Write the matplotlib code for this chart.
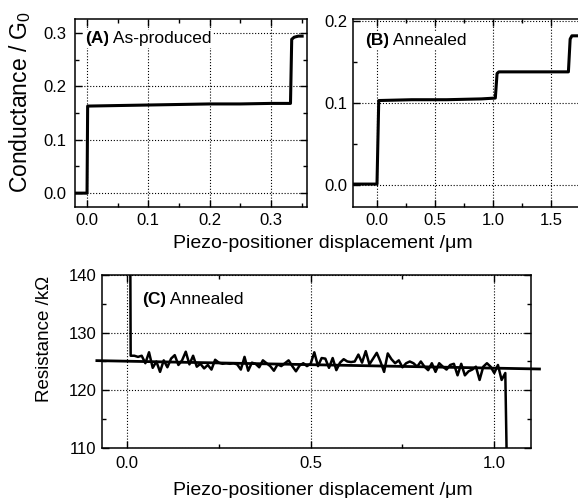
import numpy as np
import matplotlib
matplotlib.use("Agg")
import matplotlib.pyplot as plt
from matplotlib.ticker import MultipleLocator, FormatStrFormatter

#-------font setting-------
plt.rcParams['font.family'] = ['Liberation Sans', 'DejaVu Sans']
plt.rcParams['mathtext.fontset'] = 'custom'
plt.rcParams['mathtext.rm'] = 'Liberation Sans'
plt.rcParams['mathtext.it'] = 'Liberation Sans:italic'
plt.rcParams['mathtext.bf'] = 'Liberation Sans:bold'

#-------data-------
# (A) as-produced conductance trace
a_x = [-0.02, 0.0, 0.001, 0.05, 0.1, 0.15, 0.2, 0.25, 0.3, 0.332, 0.334, 0.338, 0.345, 0.351]
a_y = [0.0, 0.0, 0.163, 0.164, 0.165, 0.166, 0.167, 0.167, 0.168, 0.168, 0.288, 0.292, 0.294, 0.294]

# (B) annealed conductance trace
b_x = [-0.2, 0.0, 0.015, 0.3, 0.6, 0.9, 1.02, 1.035, 1.05, 1.3, 1.5, 1.65, 1.665, 1.68, 1.8]
b_y = [0.001, 0.001, 0.103, 0.104, 0.104, 0.105, 0.106, 0.136, 0.138, 0.138, 0.138, 0.138, 0.178, 0.182, 0.182]

# (C) annealed resistance trace, sampled every 0.01 um from 0.01 um
c_res = [126.0, 126.0, 125.8, 126.0, 124.7, 126.6, 123.9, 125.0, 123.2, 125.2,
         124.0, 125.5, 126.1, 124.4, 125.2, 126.7, 124.5, 126.0, 124.1, 124.6,
         123.8, 124.4, 123.6, 125.3, 124.8, 124.6, 124.7, 124.6, 124.7, 124.5,
         123.6, 125.8, 123.4, 124.8, 124.6, 124.0, 125.2, 124.7, 124.2, 123.4,
         124.5, 124.2, 124.7, 125.2, 124.2, 123.3, 124.3, 124.7, 124.2, 124.6,
         126.6, 124.2, 125.6, 125.5, 123.9, 125.6, 123.5, 124.8, 125.4, 125.0,
         124.9, 125.0, 126.2, 124.8, 126.8, 124.5, 125.5, 126.5, 125.0, 123.2,
         126.4, 125.4, 124.7, 125.2, 124.0, 124.7, 125.0, 124.7, 124.1, 125.0,
         124.1, 123.5, 124.7, 123.2, 124.7, 124.1, 123.6, 124.4, 124.6, 122.6,
         124.6, 122.6, 123.3, 123.6, 124.1, 121.8, 124.1, 124.7, 124.1, 123.0,
         124.4, 121.8, 123.0]
c_x = np.round(0.01 * np.arange(1, len(c_res) + 1), 2)
c_start = (0.008, 160.0)   # contact: resistance comes down from off-scale
c_end = (1.036, 100.0)     # break: resistance drops off-scale
fit_x = [-0.082, 1.123]
fit_y = [125.15, 123.7]

#-------figure-------
fig = plt.figure(figsize=(5.78, 4.98), dpi=100)
axA = fig.add_axes([0.1298, 0.5843, 0.4014, 0.3775])
axB = fig.add_axes([0.6107, 0.5843, 0.4014, 0.3775])
axC = fig.add_axes([0.1765, 0.1004, 0.7422, 0.3474])


def style(ax, xmaj, xmin, ymaj, ymin, fmt_x, fmt_y, ypad=4, xpad=4):
    ax.xaxis.set_major_locator(MultipleLocator(xmaj))
    ax.xaxis.set_minor_locator(MultipleLocator(xmin))
    ax.yaxis.set_major_locator(MultipleLocator(ymaj))
    ax.yaxis.set_minor_locator(MultipleLocator(ymin))
    ax.xaxis.set_major_formatter(FormatStrFormatter(fmt_x))
    ax.yaxis.set_major_formatter(FormatStrFormatter(fmt_y))
    ax.tick_params(which='both', direction='in', top=True, right=True,
                   width=1.0, colors='black', labelsize=12)
    ax.tick_params(which='major', length=5)
    ax.tick_params(which='minor', length=3)
    ax.tick_params(axis='y', pad=ypad)
    ax.tick_params(axis='x', pad=xpad)
    for s in ax.spines.values():
        s.set_linewidth(1.1)
    ax.grid(True, which='major', color='black', linestyle=':', linewidth=0.8)
    ax.set_axisbelow(True)


def label(ax, x, y, tag, name):
    box = dict(facecolor='white', edgecolor='none', pad=1.0)
    t = ax.text(x, y, tag, transform=ax.transAxes, fontsize=12.5,
                fontweight='bold', va='center', ha='left', bbox=box, zorder=3)
    ax.annotate(" " + name, xy=(1, 0.5), xycoords=t, fontsize=12.5,
                va='center', ha='left', bbox=box, zorder=3)


# (A)
axA.plot(a_x, a_y, color='black', linewidth=2.2, zorder=4)
axA.set_xlim(-0.0196, 0.359)
axA.set_ylim(-0.026, 0.326)
style(axA, 0.1, 0.05, 0.1, 0.05, '%.1f', '%.1f', ypad=6)
axA.set_ylabel("Conductance / G$_\\mathregular{0}$", fontsize=16.5)
axA.yaxis.set_label_coords(-0.181, 0.559)
label(axA, 0.043, 0.894, "(A)", "As-produced")

# (B)
axB.plot(b_x, b_y, color='black', linewidth=2.2, zorder=4)
axB.set_xlim(-0.207, 1.793)
axB.set_ylim(-0.027, 0.2025)
style(axB, 0.5, 0.25, 0.1, 0.05, '%.1f', '%.1f')
label(axB, 0.052, 0.888, "(B)", "Annealed")

# (C)
axC.plot(fit_x, fit_y, color='black', linewidth=2.0, clip_on=False, zorder=4)
cx = [c_start[0]] + list(c_x) + [c_end[0]]
cy = [c_start[1]] + list(c_res) + [c_end[1]]
axC.plot(cx, cy, color='black', linewidth=1.8, zorder=4)
axC.set_xlim(-0.068, 1.10)
axC.set_ylim(110, 140)
style(axC, 0.5, 0.25, 10, 5, '%.1f', '%d', xpad=6)
axC.set_ylabel("Resistance /kΩ", fontsize=13.5)
axC.yaxis.set_label_coords(-0.114, 0.63)
label(axC, 0.093, 0.861, "(C)", "Annealed")

fig.text(0.559, 0.512, "Piezo-positioner displacement /μm", fontsize=14,
         ha='center', va='center')
fig.text(0.559, 0.016, "Piezo-positioner displacement /μm", fontsize=14,
         ha='center', va='center')

fig.savefig("out.png", dpi=100)
